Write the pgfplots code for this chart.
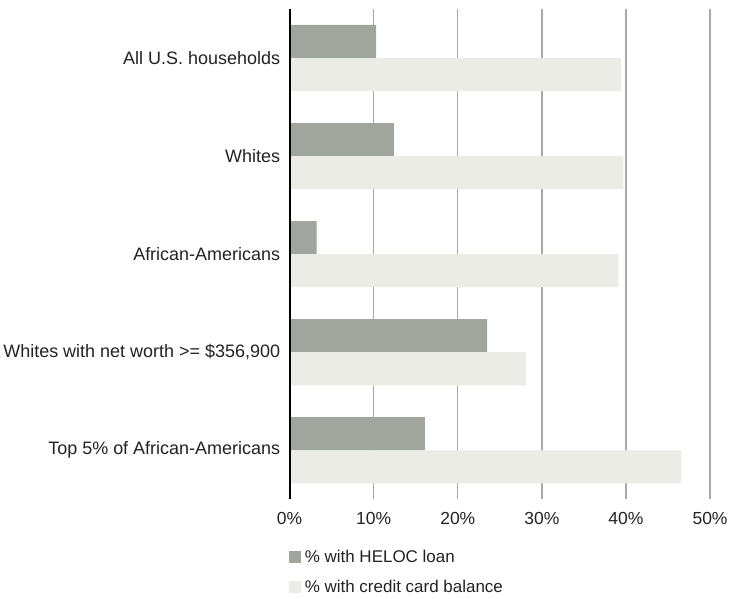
\documentclass[border=0pt]{standalone}
\usepackage{fontspec}
\setmainfont{Liberation Sans}
\usepackage{pgfplots}
\pgfplotsset{compat=1.18}
\definecolor{heloc}{HTML}{A0A59E}
\definecolor{ccard}{HTML}{ECECE6}
\definecolor{gridc}{HTML}{A8A8A8}
\definecolor{txt}{HTML}{222222}
\begin{document}
\begin{tikzpicture}[x=1pt,y=1pt]
\begin{axis}[
  scale only axis,
  width=421pt, height=491pt,
  xmin=0, xmax=50,
  ymin=-0.5, ymax=4.5,
  xbar, bar width=0.337,
  xtick={0,10,20,30,40,50},
  xticklabels={0\%,10\%,20\%,30\%,40\%,50\%},
  ytick={0,1,2,3,4},
  yticklabels={{Top 5\% of African-Americans}, {Whites with net worth >= \$356,900}, {African-Americans}, {Whites}, {All U.S. households}},
  xmajorgrids,
  major grid style={gridc, line width=1.3pt},
  axis x line*=bottom,
  x axis line style={draw=none},
  axis y line*=left,
  y axis line style={draw=none},
  major tick length=0pt,
  tick label style={font=\fontsize{17.5}{20}\selectfont, text=txt},
  yticklabel style={font=\fontsize{18}{20}\selectfont, xshift=-6pt},
  xticklabel style={yshift=-9pt},
  xtick style={draw=none}, ytick style={draw=none},
  legend style={draw=none, fill=none, font=\fontsize{17}{20}\selectfont, text=txt,
    at={(0,0)}, anchor=north west, xshift=-4pt, yshift=-47pt,
    legend cell align=left, row sep=12pt,
    /tikz/every even column/.append style={column sep=0pt}},
  legend image code/.code={\fill[#1] (0pt,-6pt) rectangle (12pt,6pt);},
  clip=false,
]
\addplot[draw=none, fill=heloc, bar shift=0.1685] coordinates {
  (16.1,0) (23.5,1) (3.2,2) (12.4,3) (10.3,4)};
\addlegendentry{\hspace{2pt}\% with HELOC loan}
\addplot[draw=none, fill=ccard, bar shift=-0.1685] coordinates {
  (46.6,0) (28.1,1) (39.1,2) (39.7,3) (39.4,4)};
\addlegendentry{\hspace{2pt}\% with credit card balance}
\draw[black, line width=2pt] (axis cs:0,-0.5) -- (axis cs:0,4.5);
\end{axis}
\path (-289pt,-99pt) rectangle (442pt,500pt);
\end{tikzpicture}
\end{document}
